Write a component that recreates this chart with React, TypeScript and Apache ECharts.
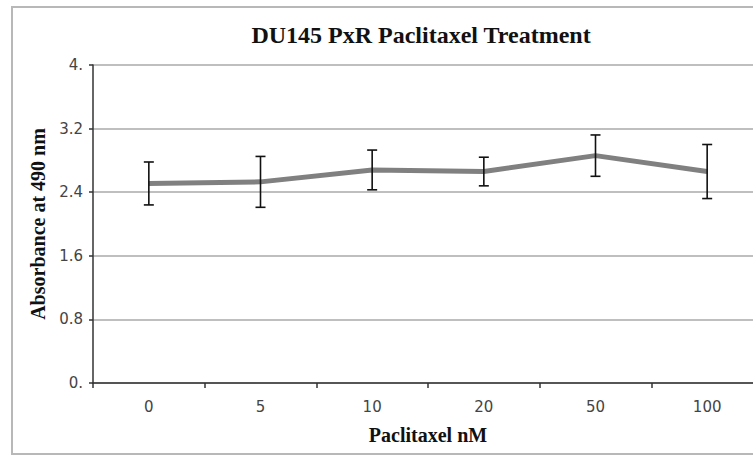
import React, { useEffect, useRef } from "react";
import * as echarts from "echarts";

const categories = ["0", "5", "10", "20", "50", "100"];
const meanValues = [2.51, 2.53, 2.68, 2.66, 2.86, 2.66];
const errorValues = [0.27, 0.32, 0.25, 0.18, 0.26, 0.34];
const yTickLabels = ["0.", "0.8", "1.6", "2.4", "3.2", "4."];

export default function App() {
  const ref = useRef<HTMLDivElement>(null);
  useEffect(() => {
    if (!ref.current) return;
    document.documentElement.style.overflow = "hidden";
    document.body.style.overflow = "hidden";
    const chart = echarts.init(ref.current, null, { renderer: "svg" });
    const errData = categories.map((c, i) => [
      i,
      meanValues[i] - errorValues[i],
      meanValues[i] + errorValues[i],
    ]);
    chart.setOption({
      animation: false,
      backgroundColor: "#ffffff",
      title: {
        text: "DU145 PxR Paclitaxel Treatment",
        left: 416,
        top: 18,
        textAlign: "center",
        textStyle: {
          fontFamily: "Liberation Serif",
          fontWeight: "bold",
          fontSize: 24,
          color: "#111",
        },
      },
      graphic: [
        {
          type: "polyline",
          shape: { points: [[820, 7], [12, 7], [12, 454], [820, 454]] },
          style: { fill: "none", stroke: "#b8b8b8", lineWidth: 2 },
          silent: true,
          z: 0,
        },
      ],
      grid: {
        left: 93,
        top: 65,
        width: 670,
        bottom: 72,
        containLabel: false,
        outerBoundsMode: "none",
      },
      xAxis: {
        type: "category",
        data: categories,
        boundaryGap: true,
        name: "Paclitaxel nM",
        nameLocation: "middle",
        nameGap: 42,
        nameTextStyle: {
          fontFamily: "Liberation Serif",
          fontWeight: "bold",
          fontSize: 20,
          color: "#111",
        },
        axisLine: { lineStyle: { color: "#333", width: 1.5 } },
        axisTick: { show: true, length: 5, lineStyle: { color: "#333", width: 1.5 } },
        axisLabel: {
          margin: 16,
          fontFamily: "DejaVu Sans",
          fontSize: 15,
          color: "#444",
        },
        splitLine: { show: false },
      },
      yAxis: {
        type: "value",
        min: 0,
        max: 4,
        interval: 0.8,
        name: "Absorbance at 490 nm",
        nameLocation: "middle",
        nameGap: 38,
        nameTextStyle: {
          fontFamily: "Liberation Serif",
          fontWeight: "bold",
          fontSize: 20,
          color: "#111",
        },
        axisLine: { show: true, lineStyle: { color: "#333", width: 1.5 } },
        axisTick: { show: true, length: 4, lineStyle: { color: "#333", width: 1.5 } },
        axisLabel: {
          margin: 10,
          fontFamily: "DejaVu Sans",
          fontSize: 15,
          color: "#444",
          formatter: (v: number) => yTickLabels[Math.round(v / 0.8)] ?? "",
        },
        splitLine: { show: true, lineStyle: { color: "#aaaaaa", width: 1.5 } },
      },
      series: [
        {
          type: "line",
          data: meanValues,
          symbol: "none",
          lineStyle: { color: "#808080", width: 5 },
          z: 2,
        },
        {
          type: "custom",
          data: errData,
          z: 3,
          renderItem: (params: any, api: any) => {
            const x = api.value(0);
            const lo = api.coord([x, api.value(1)]);
            const hi = api.coord([x, api.value(2)]);
            const w = 5;
            const style = { stroke: "#111", lineWidth: 1.6 };
            return {
              type: "group",
              children: [
                { type: "line", shape: { x1: hi[0], y1: hi[1], x2: lo[0], y2: lo[1] }, style },
                { type: "line", shape: { x1: hi[0] - w, y1: hi[1], x2: hi[0] + w, y2: hi[1] }, style },
                { type: "line", shape: { x1: lo[0] - w, y1: lo[1], x2: lo[0] + w, y2: lo[1] }, style },
              ],
            };
          },
        },
      ],
    });
    return () => chart.dispose();
  }, []);
  return (
    <div
      ref={ref}
      style={{ position: "absolute", left: 0, top: 0, width: 753, height: 455, overflow: "hidden" }}
    />
  );
}
